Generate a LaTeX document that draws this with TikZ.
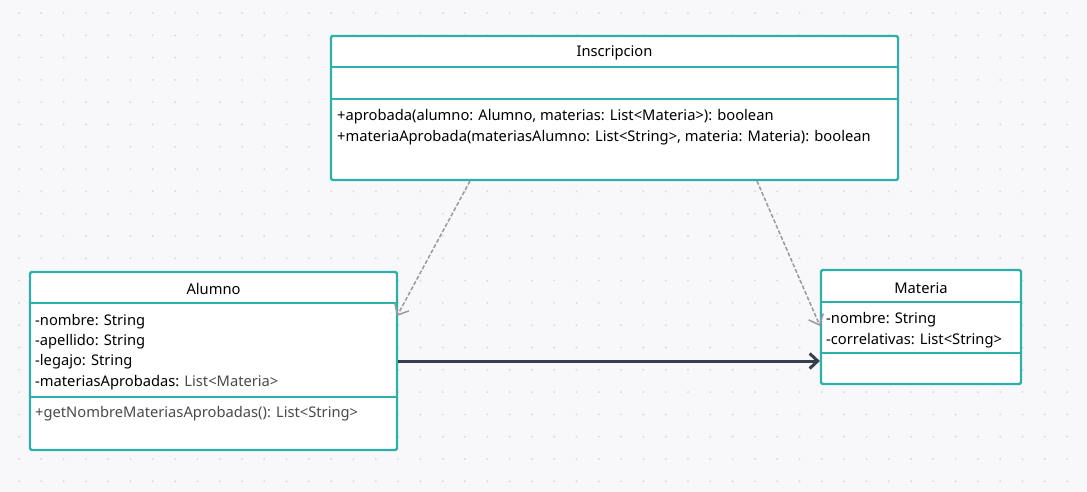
\documentclass[tikz,border=0pt]{standalone}
\usepackage{fontspec}
\setmainfont{Noto Sans}
\usetikzlibrary{arrows.meta}
\definecolor{bgc}{HTML}{F8F8FB}
\definecolor{dotc}{HTML}{DADADF}
\definecolor{teal}{HTML}{2BB0AA}
\definecolor{darkl}{HTML}{363F4D}
\definecolor{dashc}{HTML}{9A9A9A}
\definecolor{txtg}{HTML}{4A4A4A}
\begin{document}
\begin{tikzpicture}[x=1pt,y=-1pt,
  umlbox/.style={draw=teal,line width=2.2pt,fill=white,rounded corners=1.5pt,inner sep=0pt},
  divider/.style={draw=teal,line width=2.2pt},
  ttl/.style={font=\fontsize{14.7}{17}\selectfont,text=black,inner sep=0pt},
  item/.style={font=\fontsize{14.7}{17}\selectfont,text=black,anchor=west,inner sep=0pt},
  dep/.style={draw=dashc,line width=1.5pt,dash pattern=on 4pt off 2pt,-{Straight Barb[length=9pt,width=16pt,line width=1.5pt]}},
  assoc/.style={draw=darkl,line width=3pt,-{Straight Barb[length=8pt,width=15pt,line width=3pt]}}
]
\useasboundingbox (0,0) rectangle (1087,492);
\fill[bgc] (0,0) rectangle (1087,492);
\foreach \i in {0,...,48}{
  \foreach \j in {0,...,21}{
    \fill[dotc] (19+22.3*\i,13+22.3*\j) circle (1.1pt);
  }
}
% Inscripcion
\node[umlbox,minimum width=567pt,minimum height=144pt] (insc) at (614.5,108) {};
\draw[divider] (331,67) -- (898,67);
\draw[divider] (331,99) -- (898,99);
\node[ttl] (inscT) at (614.5,53) {Inscripcion};
\node[item] (inscM1) at (337,117) {+aprobada(alumno: Alumno, materias: List<Materia>): boolean};
\node[item] (inscM2) at (337,138) {+materiaAprobada(materiasAlumno: List<String>, materia: Materia): boolean};
% Alumno
\node[umlbox,minimum width=367pt,minimum height=178pt] (alum) at (213.5,361) {};
\draw[divider] (30,303) -- (397,303);
\draw[divider] (30,397) -- (397,397);
\node[ttl] (alumT) at (213.5,289) {Alumno};
\node[item] (alumA1) at (35,322) {-nombre: String};
\node[item] (alumA2) at (35,342) {-apellido: String};
\node[item] (alumA3) at (35,362) {-legajo: String};
\node[item] (alumA4) at (35,383) {-materiasAprobadas: \textcolor{txtg}{List<Materia>}};
\node[item,text=txtg] (alumM1) at (35,414) {+getNombreMateriasAprobadas(): List<String>};
% Materia
\node[umlbox,minimum width=200pt,minimum height=114pt] (mat) at (921,327) {};
\draw[divider] (821,302) -- (1021,302);
\draw[divider] (821,353) -- (1021,353);
\node[ttl] (matT) at (921,288) {Materia};
\node[item] (matA1) at (826,320) {-nombre: String};
\node[item] (matA2) at (826,341) {-correlativas: List<String>};
% connectors
\coordinate (d1s) at (470,181);
\coordinate (d1e) at (397,316);
\coordinate (d2s) at (757,181);
\coordinate (d2e) at (820,326);
\draw[dep] (d1s) -- (d1e);
\draw[dep] (d2s) -- (d2e);
\draw[assoc] (alum.east |- 0,361) -- (mat.west |- 0,361);
\end{tikzpicture}
\end{document}
